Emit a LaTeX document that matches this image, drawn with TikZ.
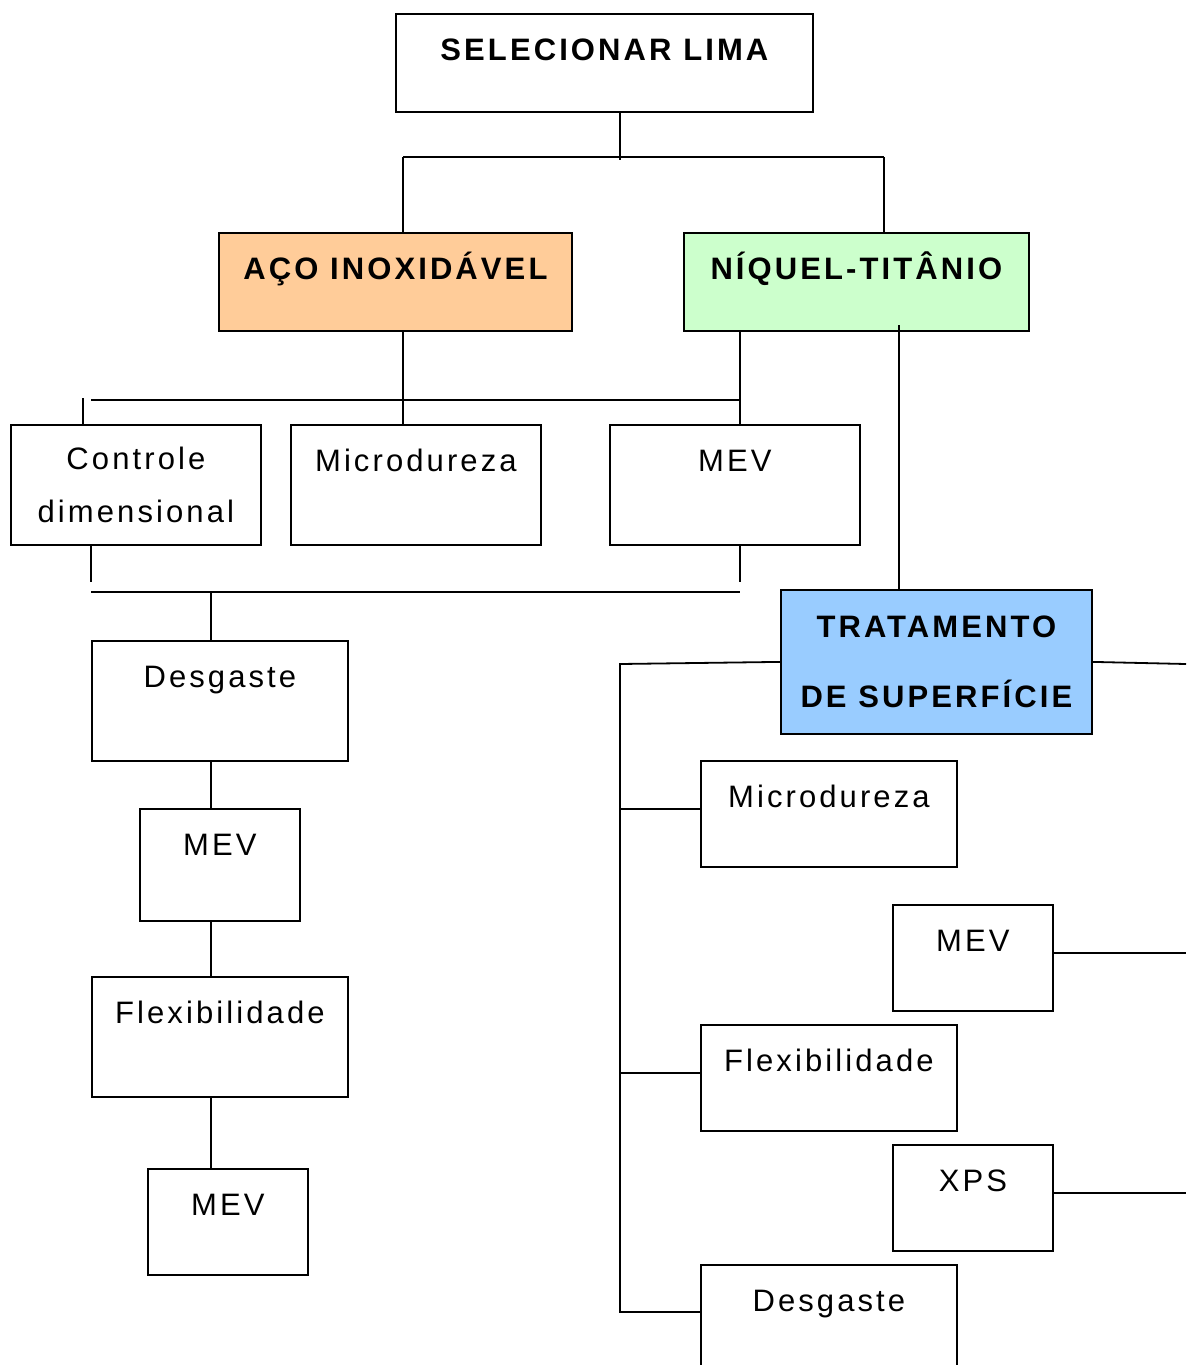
\documentclass[tikz,border=0pt]{standalone}
\usepackage{fontspec}
\setmainfont{Liberation Sans}[LetterSpace=10]
\usetikzlibrary{positioning}

\definecolor{acocolor}{HTML}{FFCC99}
\definecolor{niticolor}{HTML}{CCFFCC}
\definecolor{tratcolor}{HTML}{99CCFF}

\begin{document}
\begin{tikzpicture}[
  x=1pt, y=-1pt,
  font=\fontsize{31}{53}\selectfont,
  box/.style 2 args={rectangle, draw, line width=1.8pt, inner sep=0pt, anchor=north west,
    minimum width=#1, text height=47pt, text depth=#2},
  head/.style={font=\fontsize{31}{70}\selectfont\bfseries},
  conn/.style={line width=1.8pt}
]
  \clip (0,0) rectangle (1186,1365);

  % materiais
  \node[box={417pt}{51pt}, head] (sel) at (395,13) {SELECIONAR LIMA};
  \node[box={353pt}{51pt}, head, fill=acocolor] (aco) at (218,232) {AÇO INOXIDÁVEL};
  \node[box={345pt}{51pt}, head, fill=niticolor] (niq) at (683,232) {NÍQUEL-TITÂNIO};

  % ensaios iniciais
  \node[box={250pt}{}, text height=, minimum height=120pt, align=center] (ctrl) at (10,424) {Controle\\dimensional};
  \node[box={250pt}{73pt}] (micro1) at (290,424) {Microdureza};
  \node[box={250pt}{73pt}] (mev1) at (609,424) {MEV};

  % sequencia do aco
  \node[box={256pt}{73pt}] (desg1) at (91,640) {Desgaste};
  \node[box={160pt}{65pt}] (mev2) at (139,808) {MEV};
  \node[box={256pt}{73pt}] (flex1) at (91,976) {Flexibilidade};
  \node[box={160pt}{59pt}] (mev3) at (147,1168) {MEV};

  % tratamento de superficie
  \node[box={311pt}{}, text height=, minimum height=144pt, head, align=center, fill=tratcolor] (trat) at (780,589) {TRATAMENTO\\DE SUPERFÍCIE};
  \node[box={256pt}{59pt}] (micro2) at (700,760) {Microdureza};
  \node[box={160pt}{59pt}] (mev4) at (892,904) {MEV};
  \node[box={256pt}{59pt}] (flex2) at (700,1024) {Flexibilidade};
  \node[box={160pt}{59pt}] (xps) at (892,1144) {XPS};
  \node[box={256pt}{150pt}] (desg2) at (700,1264) {Desgaste};

  \coordinate (selbus) at (620,157);
  \coordinate (busw) at (403,157);
  \coordinate (buse) at (884,157);
  \draw[conn] (sel.south -| selbus) -- ([yshift=-3pt]selbus);
  \draw[conn] (busw) -- (buse);
  \draw[conn] (busw) -- (busw |- aco.north);
  \draw[conn] (buse) -- (buse |- niq.north);

  \coordinate (bus2w) at (91,400);
  \coordinate (bus2e) at (740,400);
  \coordinate (ctrlin) at (83,398);
  \coordinate (tratin) at (899,325);
  \draw[conn] (bus2w) -- (bus2e);
  \draw[conn] (busw |- aco.south) -- (busw |- micro1.north);
  \draw[conn] (bus2e |- niq.south) -- (bus2e |- mev1.north);
  \draw[conn] (ctrlin) -- (ctrlin |- ctrl.north);
  \draw[conn] (tratin) -- (tratin |- trat.north);

  \coordinate (bus3w) at (91,592);
  \coordinate (bus3e) at (740,592);
  \coordinate (chain) at (211,592);
  \draw[conn] (bus3w) -- (bus3e);
  \draw[conn] (bus3w |- ctrl.south) -- ([yshift=10pt]bus3w);
  \draw[conn] (bus3e |- mev1.south) -- ([yshift=10pt]bus3e);
  \draw[conn] (chain) -- (chain |- desg1.north);
  \draw[conn] (chain |- desg1.south) -- (chain |- mev2.north);
  \draw[conn] (chain |- mev2.south) -- (chain |- flex1.north);
  \draw[conn] (chain |- flex1.south) -- (chain |- mev3.north);

  \coordinate (trunk) at (620,664);
  \coordinate (trunkend) at (620,1312);
  \coordinate (edge) at (1186,664);
  \draw[conn] (trat.west) -- (trunk) -- (trunkend) -- (trunkend -| desg2.west);
  \draw[conn] (trunk |- micro2.west) ++(0,-5) -- ([yshift=5pt]micro2.west);
  \draw[conn] (trunk |- flex2.west) ++(0,-5) -- ([yshift=5pt]flex2.west);
  \draw[conn] (trat.east) -- (edge);
  \draw[conn] ([yshift=5pt]mev4.east) -- ([yshift=5pt]mev4.east -| edge);
  \draw[conn] ([yshift=5pt]xps.east) -- ([yshift=5pt]xps.east -| edge);
\end{tikzpicture}
\end{document}
